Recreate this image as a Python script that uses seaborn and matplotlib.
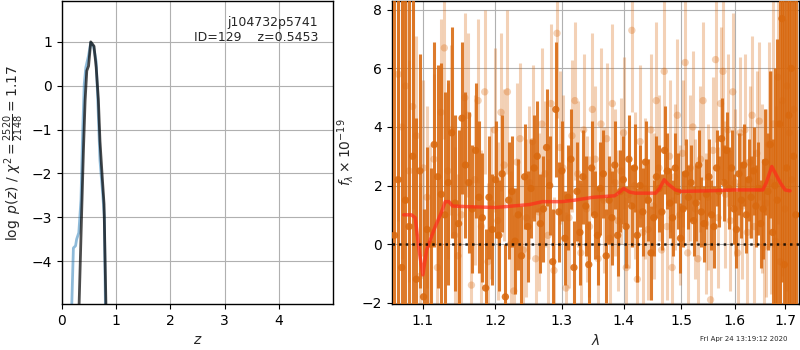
import numpy as np
import pandas as pd
import matplotlib
matplotlib.use('Agg')
import matplotlib.pyplot as plt
import seaborn as sns
from matplotlib.ticker import ScalarFormatter, NullLocator

sns.set_style('whitegrid', rc={
    'axes.edgecolor': 'black',
    'grid.color': '#b0b0b0',
    'xtick.bottom': True,
    'ytick.left': True,
    'xtick.color': 'black',
    'ytick.color': 'black',
})
plt.rcParams['font.family'] = ['DejaVu Sans']

# ---------------- p(z) panel ----------------
# 模板拟合 (浅蓝) 与 精细拟合 (深灰)
pz_blue_z = [0.18, 0.21, 0.25, 0.27, 0.31, 0.35, 0.38, 0.41, 0.44, 0.49, 0.53,
             0.58, 0.63, 0.66, 0.70, 0.75, 0.78, 0.80]
pz_blue_lnp = [-5.0, -3.7, -3.65, -3.5, -3.35, -2.6, -1.1, 0.04, 0.42, 0.69, 0.98,
               0.9, 0.55, -0.34, -1.7, -2.46, -2.98, -5.0]
pz_dark_z = [0.315, 0.36, 0.395, 0.426, 0.457, 0.49, 0.53, 0.59, 0.63, 0.67, 0.70,
             0.735, 0.775, 0.81]
pz_dark_lnp = [-5.0, -3.0, -1.48, -0.34, 0.34, 0.45, 1.0, 0.9, 0.42, -0.3, -1.26,
               -1.95, -2.7, -5.0]

# ---------------- spectrum panel ----------------
# 深色光谱 (波长范围, 通量, 误差)
dark_wave_range = (1.063, 1.722)
dark_flux = [
    0.3, 2.2, -0.8, 1.5, 0.6, 3.0, -1.2, 2.5, -1.8, 0.5,
    0.0, 3.4, 2.3, 1.7, 1.0, 2.1, 3.8, 1.4, 0.7, 4.3,
    2.7, 2.1, 1.2, 3.2, 1.6, 0.9, -1.5, 1.6, 0.5, 2.2,
    0.3, 2.4, -1.8, 1.5, 1.8, 0.1, 1.0, -0.4, 2.3, 0.6,
    1.9, 2.6, 3.0, 0.7, 1.2, 3.3, 2.0, -0.6, 4.6, 1.1,
    2.5, 0.2, 1.6, 2.9, -0.8, 1.8, 0.4, 2.3, 1.3, -0.7,
    2.6, 1.0, 0.3, 1.9, 2.4, -0.4, 1.5, 0.9, 2.7, 0.3,
    1.8, 2.2, 0.6, 2.9, 1.3, 2.6, 0.3, 2.0, 1.1, 2.8,
    1.5, -0.3, 0.9, 2.3, 1.9, 1.1, 3.2, 2.5, 1.4, 0.9,
    2.6, 1.8, 0.2, 1.2, 2.4, 1.6, 2.1, 0.8, 1.4, 2.7,
    1.1, 0.7, 1.7, 2.3, 1.0, 0.6, 2.6, 1.8, 3.6, 2.1,
    3.2, 1.9, 2.6, 1.2, 0.5, 2.4, 1.5, 2.7, 1.0, 2.2,
    1.6, 2.5, 1.3, 1.9, 0.7, 1.2, 2.8, 1.8, 3.4, 0.4,
    2.0, 1.5, 4.1, 7.7, -0.7, 2.6, 4.4, 6.0, 3.0, 1.0,
]
dark_err = [
    12, 12, 11, 10, 9, 7, 5.5, 4.0, 3.0, 2.8,
    2.6, 3.5, 3.8, 4.5, 4.2, 3.5, 3.6, 3.0, 3.2, 2.6,
    2.5, 2.4, 2.2, 2.3, 2.6, 2.2, 2.0, 2.1, 1.9, 2.0,
    1.9, 2.0, 1.8, 2.0, 1.9, 1.8, 1.9, 1.7, 1.8, 1.9,
    1.7, 1.8, 1.9, 1.7, 1.8, 2.0, 1.7, 1.8, 2.3, 1.7,
    1.7, 1.6, 1.8, 1.7, 1.6, 1.7, 1.8, 1.6, 1.7, 1.5,
    1.6, 1.5, 1.7, 1.6, 1.5, 1.6, 1.5, 1.6, 1.5, 1.4,
    1.4, 1.5, 1.4, 1.5, 1.4, 1.5, 1.6, 1.4, 1.5, 1.4,
    1.4, 1.6, 1.3, 1.4, 1.5, 1.3, 1.5, 1.3, 1.2, 1.3,
    1.2, 1.3, 1.2, 1.3, 1.2, 1.1, 1.3, 1.2, 1.3, 1.2,
    1.2, 1.3, 1.2, 1.3, 1.2, 1.4, 1.3, 1.2, 1.4, 1.3,
    1.3, 1.4, 1.3, 1.2, 1.3, 1.4, 1.3, 1.4, 1.3, 1.4,
    1.4, 1.5, 1.4, 1.6, 1.5, 1.7, 1.8, 2.0, 2.5, 3.2,
    4.0, 5.5, 7.0, 9.0, 11, 12, 12, 12, 12, 12,
]

# 浅色光谱
light_wave_range = (1.068, 1.718)
light_flux = [
    5.8, 4.0, 5.4, 2.5, 4.7, 3.7, -1.1, 2.6, 1.6, 0.4,
    2.9, -0.8, 4.5, 6.7, 2.5, 3.9, 0.3, -0.4, 1.0, 5.0,
    4.4, -1.4, 2.2, 4.9, 0.6, 5.2, -0.6, 1.4, 3.9, 0.8,
    4.5, 2.7, 5.2, 0.0, -1.6, 2.8, 3.6, -0.2, 0.9, 2.1,
    3.5, -0.5, 1.1, 4.1, 2.4, 0.3, 4.8, -0.9, 7.2, 3.3,
    2.6, -1.5, 0.9, 3.7, 4.9, 2.4, -0.3, 3.9, 1.2, 0.6,
    4.6, 2.9, -0.5, 4.1, 1.5, 3.6, 0.2, 4.8, 2.1, 0.8,
    2.5, 3.8, -0.8, 1.7, 7.3, 2.0, -1.2, 3.5, 0.4, 1.9,
    0.5, 3.9, 1.3, 4.9, 2.6, -0.2, 5.9, 0.6, 3.0, -0.8,
    2.3, 4.4, 1.0, 3.1, 6.2, -0.3, 2.6, 4.0, 1.2, -0.5,
    2.9, 4.9, 0.7, 1.6, -1.9, 3.2, 6.3, 0.9, 4.8, 5.9,
    1.7, 3.9, 0.8, 5.2, 2.1, -0.3, 3.8, 1.3, 3.9, 0.4,
    2.8, 4.4, 0.6, 3.1, 4.2, 1.9, -0.1, 1.4, 3.4, 2.1,
    4.1, 0.1, 5.7, -0.6, 4.9, 1.2, 5.4, 3.8, 2.2, 4.6,
]
light_err = [
    5.0, 4.5, 4.0, 3.8, 3.5, 3.4, 3.2, 3.0, 3.1, 3.0,
    2.9, 3.0, 3.2, 3.1, 3.0, 2.9, 3.0, 2.8, 3.0, 2.9,
    2.8, 2.7, 2.9, 2.8, 2.6, 2.8, 2.7, 2.6, 2.8, 2.7,
    2.7, 2.6, 2.8, 2.5, 2.6, 2.7, 2.6, 2.5, 2.7, 2.6,
    2.6, 2.5, 2.7, 2.6, 2.5, 2.6, 2.7, 2.5, 2.9, 2.6,
    2.5, 2.6, 2.4, 2.6, 2.7, 2.5, 2.4, 2.6, 2.5, 2.4,
    2.6, 2.5, 2.4, 2.6, 2.5, 2.6, 2.4, 2.7, 2.5, 2.4,
    2.5, 2.6, 2.4, 2.5, 2.8, 2.5, 2.4, 2.6, 2.5, 2.4,
    2.4, 2.6, 2.5, 2.7, 2.5, 2.4, 2.8, 2.5, 2.6, 2.4,
    2.5, 2.6, 2.4, 2.5, 2.8, 2.4, 2.5, 2.6, 2.4, 2.5,
    2.5, 2.7, 2.4, 2.5, 2.6, 2.5, 2.8, 2.4, 2.6, 2.7,
    2.5, 2.6, 2.4, 2.7, 2.5, 2.4, 2.6, 2.5, 2.6, 2.5,
    2.6, 2.7, 2.6, 2.8, 2.7, 2.9, 3.0, 3.2, 3.5, 3.8,
    4.2, 4.6, 5.0, 5.5, 6.0, 6.5, 7.0, 8.0, 9.0, 10.0,
]

# 最佳拟合模型
model_wave = [1.075, 1.085, 1.090, 1.095, 1.100, 1.105, 1.115, 1.125, 1.130, 1.135,
              1.140, 1.160, 1.200, 1.250, 1.270, 1.300, 1.320, 1.350, 1.385, 1.395,
              1.400, 1.410, 1.420, 1.455, 1.462, 1.470, 1.477, 1.490, 1.500, 1.550,
              1.600, 1.655, 1.662, 1.673, 1.690, 1.700, 1.710]
model_flux = [1.0, 1.0, 0.9, -0.2, -1.05, -0.2, 0.5, 1.1, 1.45, 1.45,
              1.3, 1.28, 1.25, 1.35, 1.45, 1.45, 1.5, 1.6, 1.65, 1.8,
              1.9, 1.78, 1.74, 1.74, 1.9, 2.2, 2.05, 1.85, 1.8, 1.82,
              1.85, 1.85, 2.1, 2.65, 2.1, 1.85, 1.82]

title_lines = 'j104732p5741\nID=129    z=0.5453'
timestamp = 'Fri Apr 24 13:19:12 2020'

dark_wave = np.linspace(*dark_wave_range, len(dark_flux))   # 像素波长网格
light_wave = np.linspace(*light_wave_range, len(light_flux))

orange = '#d9690f'

fig = plt.figure(figsize=(8, 3.5), dpi=100)
ax1 = fig.add_axes([0.0775, 0.131, 0.339, 0.866])
ax2 = fig.add_axes([0.49, 0.131, 0.509, 0.866])

# 左图
sns.lineplot(x=pz_blue_z, y=pz_blue_lnp, color='tab:blue', alpha=0.5, lw=2,
             sort=False, ax=ax1)
sns.lineplot(x=pz_dark_z, y=pz_dark_lnp, color='k', alpha=0.7, lw=2,
             sort=False, ax=ax1)
ax1.set_xlim(0, 5.0)
ax1.set_ylim(-4.98, 1.93)
ax1.set_xticks([0, 1, 2, 3, 4])
ax1.set_yticks([-4, -3, -2, -1, 0, 1])
ax1.set_xlabel(r'$z$')
ax1.set_ylabel(r'$\log\ p(z)$ / $\chi^2=\frac{2520}{2148}=1.17$')
ax1.text(0.945, 0.952, title_lines, transform=ax1.transAxes, ha='right', va='top',
         multialignment='right', fontsize=9)
ax1.grid(True)

# 右图
ax2.errorbar(light_wave, light_flux, yerr=light_err, fmt='none', ecolor=orange,
             alpha=0.3, elinewidth=2.2, zorder=2)
sns.scatterplot(x=light_wave, y=light_flux, color=orange, alpha=0.3, s=28,
                edgecolor='none', ax=ax2, zorder=2)
ax2.errorbar(dark_wave, dark_flux, yerr=dark_err, fmt='none', ecolor=orange,
             alpha=0.88, elinewidth=2.2, zorder=3)
sns.scatterplot(x=dark_wave, y=dark_flux, color=orange, alpha=0.88, s=28,
                edgecolor='none', ax=ax2, zorder=3)
sns.lineplot(x=model_wave, y=model_flux, color='#ff2a1a', alpha=0.7, lw=2.5,
             sort=False, ax=ax2, zorder=5)
ax2.axhline(0, color='k', ls=':', lw=1.8, alpha=0.85, zorder=6)

ax2.set_xscale('log')
ax2.set_xlim(1.06, 1.729)
ax2.set_ylim(-2.05, 8.3)
ax2.set_xticks([1.1, 1.2, 1.3, 1.4, 1.5, 1.6, 1.7])
ax2.xaxis.set_major_formatter(ScalarFormatter())
ax2.xaxis.set_minor_locator(NullLocator())
ax2.set_yticks([-2, 0, 2, 4, 6, 8])
ax2.set_xlabel(r'$\lambda$')
ax2.set_ylabel(r'$f_\lambda \times 10^{-19}$')
ax2.grid(True, which='major')

for ax in (ax1, ax2):
    for s in ax.spines.values():
        s.set_edgecolor('black')
        s.set_linewidth(1.0)

fig.text(0.985, 0.022, timestamp, ha='right', va='bottom', fontsize=5)

plt.savefig('out.png', dpi=100, facecolor='white')
